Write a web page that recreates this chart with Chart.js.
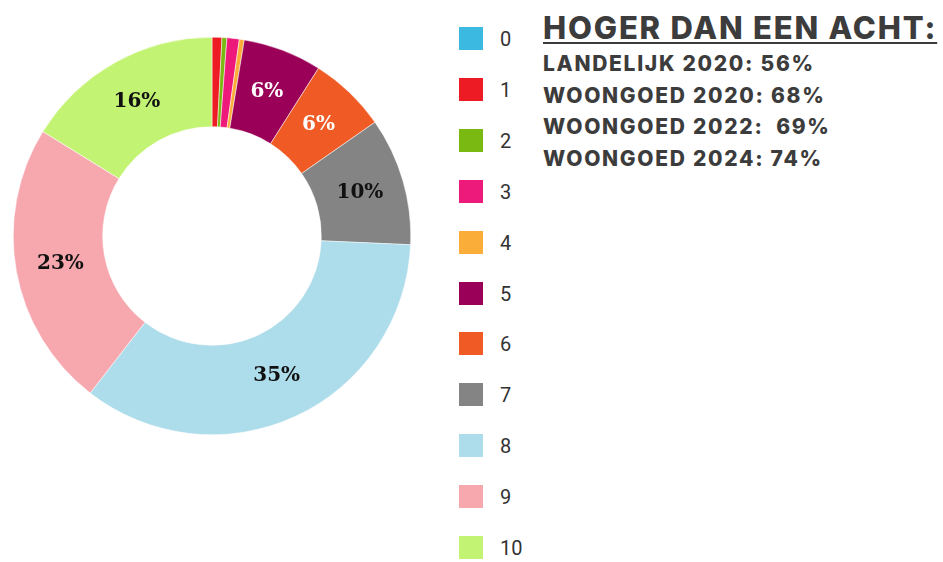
<!DOCTYPE html>
<html>
<head>
<meta charset="utf-8">
<script src="https://cdn.jsdelivr.net/npm/chart.js@4.4.1/dist/chart.umd.min.js"></script>
<style>
  body { margin: 0; background: #fff; width: 943px; height: 562px; position: relative; overflow: hidden; }
  #donut { position: absolute; left: 13px; top: 37px; }
  #legend { position: absolute; left: 459px; top: 0; font-family: Roboto, sans-serif; font-size: 20px; color: #333; }
  .item { position: absolute; left: 0; width: 80px; height: 24px; }
  .box { position: absolute; left: 0; top: 0; width: 24px; height: 23px; }
  .lbl { position: absolute; left: 41px; top: 0; line-height: 24px; }
  #info { position: absolute; left: 543px; top: 8px; font-family: Inter, sans-serif; font-weight: 800; color: #3c3c3c; }
  #info h1 { margin: 0; font-size: 31px; line-height: 40px; letter-spacing: 1.8px; text-decoration: underline; text-decoration-thickness: 2px; text-underline-offset: 3px; font-weight: 800; }
  #info p { margin: 0; font-size: 21px; line-height: 31.5px; letter-spacing: 1.7px; }
</style>
</head>
<body>
<canvas id="donut" width="398" height="398"></canvas>
<div id="legend"></div>
<div id="info">
  <h1>HOGER DAN EEN ACHT:</h1>
  <p>LANDELIJK 2020: 56%</p>
  <p>WOONGOED 2020: 68%</p>
  <p>WOONGOED 2022:&nbsp; 69%</p>
  <p>WOONGOED 2024: 74%</p>
</div>
<script>
// rapportcijfers 0-10, aandeel in procenten
let grades = ["0", "1", "2", "3", "4", "5", "6", "7", "8", "9", "10"];
let shares = [0, 0.8, 0.4, 1.0, 0.4, 6.4, 6.3, 10.4, 34.8, 23.3, 16.2];
let colors = ["#3bb9e0", "#ed1c24", "#7ab912", "#ee1a7b", "#fbad3a", "#9b0058",
              "#f05a24", "#848484", "#addcea", "#f7a8af", "#c3f373"];
let whiteText = [5, 6]; // dark slices get white labels

// percentages inside the bigger slices
const sliceLabels = {
    id: "sliceLabels",
    afterDatasetsDraw(chart) {
        const ctx = chart.ctx;
        const meta = chart.getDatasetMeta(0);
        ctx.save();
        ctx.font = "bold 20px 'DejaVu Serif'";
        ctx.textAlign = "center";
        ctx.textBaseline = "middle";
        meta.data.forEach((arc, i) => {
            if (shares[i] < 5) return;
            const p = arc.tooltipPosition();
            ctx.fillStyle = whiteText.includes(i) ? "#ffffff" : "#111111";
            ctx.fillText(Math.round(shares[i]) + "%", p.x, p.y);
        });
        ctx.restore();
    },
};

new Chart(document.getElementById("donut"), {
    type: "doughnut",
    data: {
        labels: grades,
        datasets: [{
            data: shares,
            backgroundColor: colors,
            borderColor: "#ffffff",
            borderWidth: 0.5,
            hoverBorderWidth: 0.5,
        }],
    },
    options: {
        responsive: false,
        animation: false,
        cutout: "55%",
        layout: { padding: 0 },
        plugins: {
            legend: { display: false },
            tooltip: { enabled: false },
        },
    },
    plugins: [sliceLabels],
});

// legend built from the same arrays
let legend = document.getElementById("legend");
for (var i = 0; i < grades.length; i++) {
    let item = document.createElement("div");
    item.className = "item";
    item.style.top = (27 + i * 50.9) + "px";
    item.innerHTML = '<div class="box" style="background:' + colors[i] + '"></div>' +
        '<div class="lbl">' + grades[i] + "</div>";
    legend.appendChild(item);
}
</script>
</body>
</html>
